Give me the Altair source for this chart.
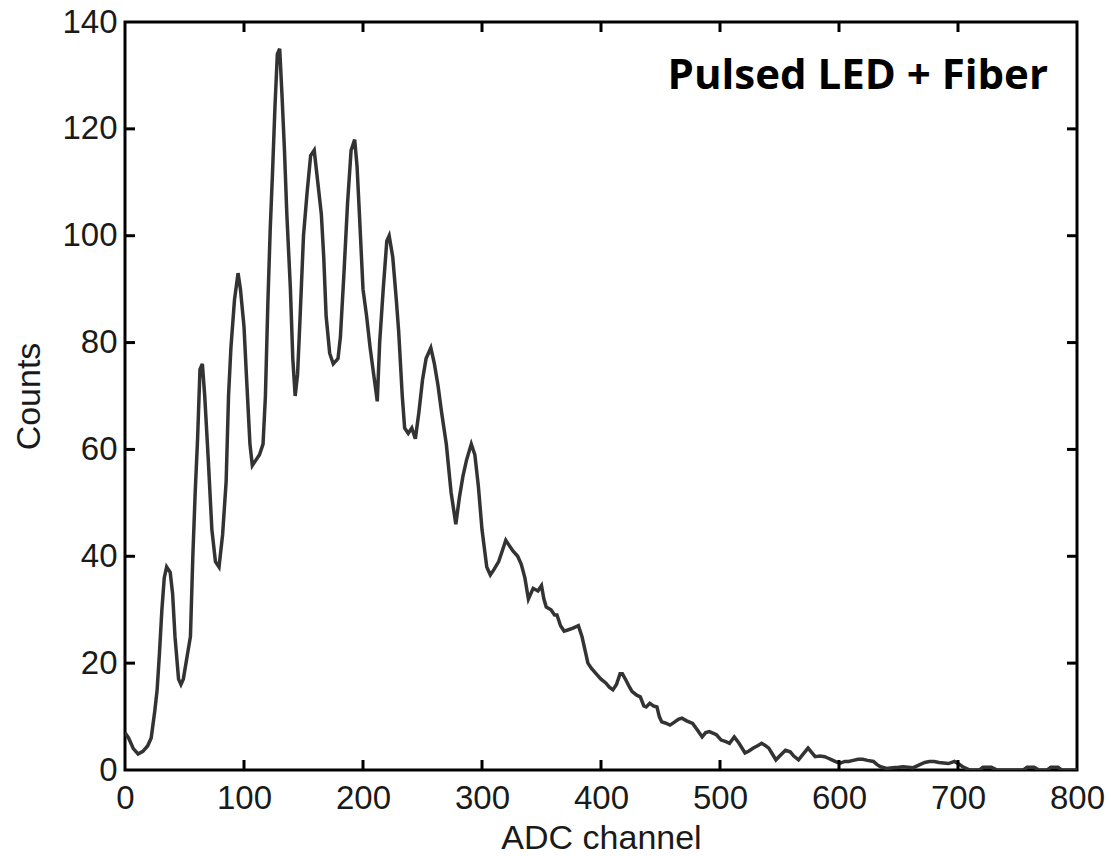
import altair as alt
import pandas as pd

# ADC spectrum of the pulsed LED through fiber
channel = [0, 3, 7, 11, 15, 19, 22, 25, 27, 29, 31, 33, 35, 38, 40, 42, 45, 47, 49, 52,
           55, 57, 59, 61, 63, 65, 67, 70, 73, 76, 79, 82, 85, 87, 89, 92, 95, 97, 100, 102,
           105, 107, 110, 113, 116, 118, 120, 122, 124, 126, 128, 130, 132, 134, 136, 139, 141, 143, 145, 147,
           150, 153, 156, 159, 162, 165, 167, 169, 172, 175, 179, 181, 184, 187, 190, 193, 195, 197, 200, 203,
           206, 209, 212, 214, 217, 220, 222, 225, 228, 230, 233, 235, 238, 241, 244, 247, 250, 253, 257, 260,
           263, 266, 270, 274, 278, 281, 284, 287, 291, 294, 297, 300, 304, 307, 310, 314, 317, 320, 323, 326,
           330, 333, 336, 339, 343, 347, 350, 352, 354, 358, 361, 363, 366, 369, 372, 376, 381, 384, 387, 389,
           392, 396, 400, 404, 407, 410, 413, 416, 418, 421, 424, 426, 430, 433, 436, 438, 441, 444, 447, 449,
           451, 454, 458, 462, 465, 468, 472, 477, 481, 485, 488, 491, 495, 497, 501, 505, 508, 512, 516, 521,
           524, 528, 532, 535, 538, 541, 544, 547, 551, 555, 559, 562, 566, 570, 574, 577, 580, 584, 588, 591,
           594, 598, 601, 605, 608, 612, 616, 620, 624, 629, 632, 635, 640, 645, 650, 654, 658, 662, 667, 672,
           676, 680, 684, 688, 692, 697, 700, 704, 710, 718, 721, 728, 733, 755, 758, 764, 768, 775, 778, 784,
           787, 800]
counts = [7, 6, 4, 3, 3.5, 4.5, 6, 11, 15, 22, 30, 36, 38, 37, 33, 25, 17, 16, 17, 21,
          25, 40, 52, 62, 75, 76, 70, 58, 45, 39, 38, 44, 54, 70, 79, 88, 93, 90, 83, 74,
          61, 57, 58, 59, 61, 70, 87, 101, 112, 124, 134, 135, 126, 116, 104, 90, 77, 70, 74, 84,
          100, 108, 115, 116, 110, 104, 96, 85, 78, 76, 77, 81, 93, 106, 116, 118, 113, 104, 90, 85,
          79, 74, 69, 80, 90, 99, 100, 96, 88, 82, 70, 64, 63, 64, 62, 67, 73, 77, 79, 76,
          72, 67, 61, 52, 46, 51, 55, 58, 61, 59, 53, 45, 38, 36.5, 37.5, 39, 41, 43, 42, 41,
          40, 38.5, 36, 32, 34, 33.5, 34.5, 32, 30.5, 30, 29, 29, 27, 26, 26.2, 26.5, 27, 25, 22, 20,
          19, 18, 17, 16.3, 15.5, 15, 16, 18, 18, 16.8, 15.5, 14.7, 14, 13.7, 12, 11.8, 12.5, 12, 11.8, 10,
          9, 8.8, 8.4, 9, 9.5, 9.7, 9.2, 8.7, 7.5, 6.2, 7, 7.2, 6.8, 6.6, 5.6, 5.3, 5, 6.2, 5, 3.2,
          3.5, 4.1, 4.6, 5, 4.6, 4.1, 3, 1.9, 2.8, 3.7, 3.4, 2.6, 1.9, 3, 4.1, 3.3, 2.5, 2.6, 2.5, 2.2,
          1.9, 1.5, 1.3, 1.6, 1.6, 1.8, 2, 2, 1.8, 1.6, 1, 0.6, 0.3, 0.4, 0.5, 0.6, 0.5, 0.4, 0.9, 1.4,
          1.6, 1.6, 1.4, 1.3, 1.2, 1.6, 1.2, 0.6, 0, 0, 0.5, 0.5, 0, 0, 0.5, 0.5, 0, 0, 0.5, 0.5,
          0, 0]

x_ticks = [0, 100, 200, 300, 400, 500, 600, 700, 800]
y_ticks = [0, 20, 40, 60, 80, 100, 120, 140]
x_inner = [100, 200, 300, 400, 500, 600, 700]
y_inner = [20, 40, 60, 80, 100, 120]

W, H = 952, 748
FONT = "Liberation Sans"
TICK = 10

spec = pd.DataFrame({"channel": channel, "counts": counts})
xs = alt.Scale(domain=[0, 800], nice=False)
ys = alt.Scale(domain=[0, 140], nice=False)

line = alt.Chart(spec).mark_line(color="#333333", strokeWidth=3.5, clip=True).encode(
    x=alt.X("channel:Q", scale=xs,
            axis=alt.Axis(values=x_ticks, title="ADC channel", grid=False, domain=False,
                          ticks=False, tickSize=0, labelPadding=12, labelFontSize=33,
                          labelFont=FONT, labelColor="#1a1a1a", titleFont=FONT,
                          titleFontSize=34, titleFontWeight="normal", titleColor="#1a1a1a",
                          titleY=78, titleBaseline="alphabetic", labelFlush=False)),
    y=alt.Y("counts:Q", scale=ys,
            axis=alt.Axis(values=y_ticks, title="Counts", grid=False, domain=False,
                          ticks=False, tickSize=0, labelPadding=8, labelFontSize=33,
                          labelFont=FONT, labelColor="#1a1a1a", titleFont=FONT,
                          titleFontSize=34, titleFontWeight="normal", titleColor="#1a1a1a",
                          titleX=-86, titleBaseline="alphabetic", labelFlush=False)),
)

xt = pd.DataFrame({"v": x_inner})
yt = pd.DataFrame({"v": y_inner})
tick_style = dict(color="black", strokeWidth=3)

bottom = alt.Chart(xt).mark_rule(**tick_style).encode(
    x=alt.X("v:Q", scale=xs), y=alt.value(H), y2=alt.value(H - TICK))
top = alt.Chart(xt).mark_rule(**tick_style).encode(
    x=alt.X("v:Q", scale=xs), y=alt.value(0), y2=alt.value(TICK))
left = alt.Chart(yt).mark_rule(**tick_style).encode(
    y=alt.Y("v:Q", scale=ys), x=alt.value(0), x2=alt.value(TICK))
right = alt.Chart(yt).mark_rule(**tick_style).encode(
    y=alt.Y("v:Q", scale=ys), x=alt.value(W), x2=alt.value(W - TICK))

label = alt.Chart(pd.DataFrame({"t": ["Pulsed LED + Fiber"]})).mark_text(
    font="Open Sans", fontSize=42, fontWeight="bold", align="right",
    baseline="alphabetic", color="black"
).encode(x=alt.value(923), y=alt.value(67), text="t:N")

chart = alt.layer(line, bottom, top, left, right, label).properties(
    width=W, height=H,
    autosize=alt.AutoSizeParams(type="none"),
    padding={"left": 125, "top": 22, "right": 34, "bottom": 86},
    background="white",
).configure_view(stroke="black", strokeWidth=3)

chart.save("out.html", embed_options={"renderer": "svg", "actions": False})
